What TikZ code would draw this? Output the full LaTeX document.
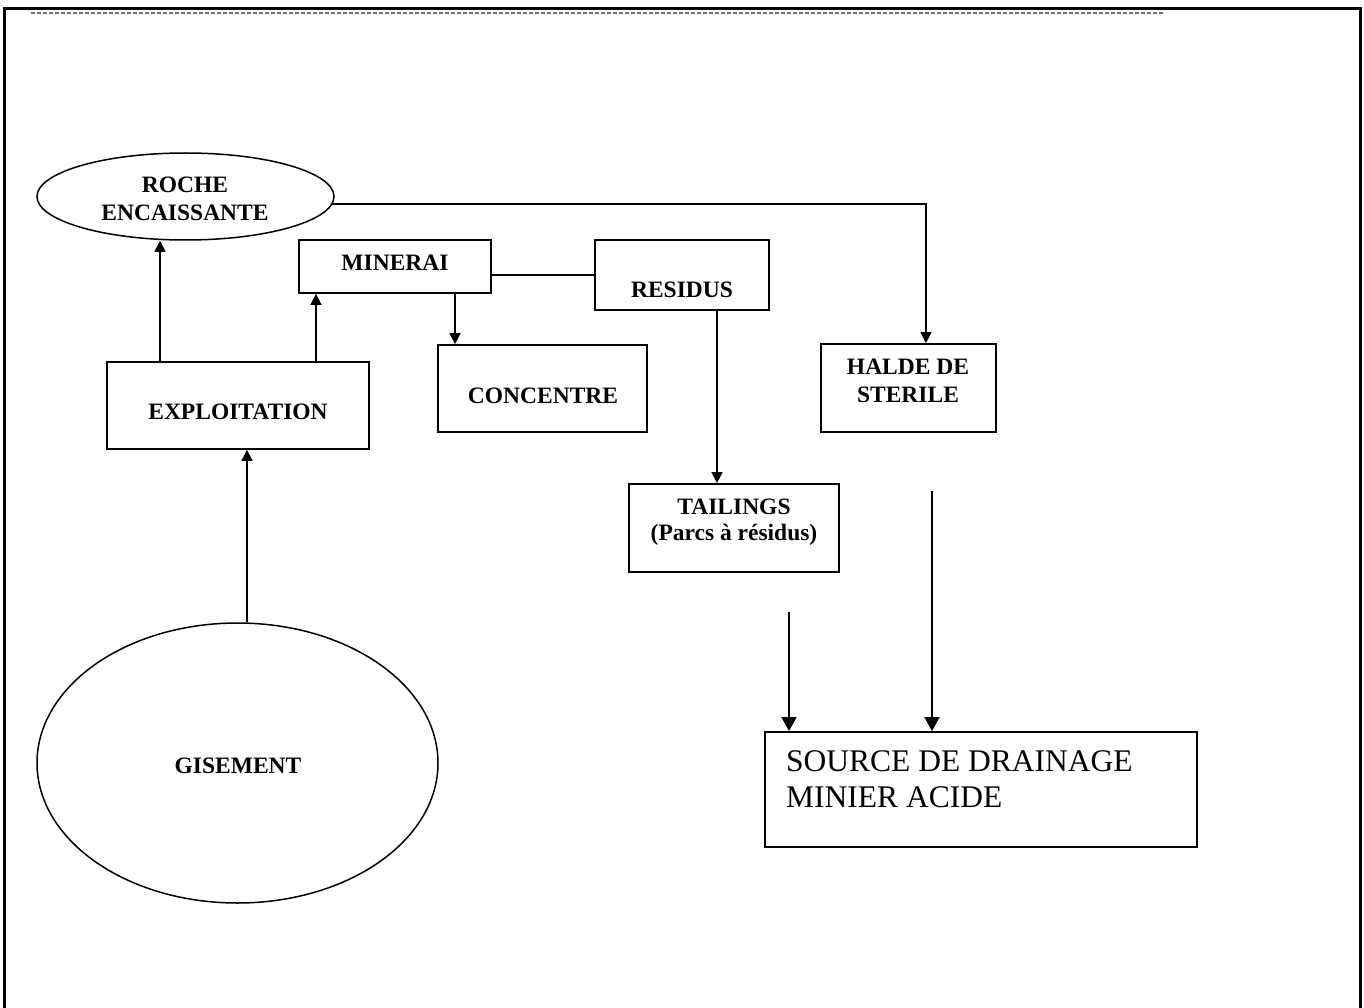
\documentclass[tikz,border=0pt]{standalone}
\usepackage{fontspec}
\setmainfont{Liberation Serif}
\usetikzlibrary{arrows.meta,shapes.geometric}
\tikzset{
  box/.style={draw, line width=1.8pt, inner sep=0pt},
  oval/.style={draw, ellipse, line width=1.5pt, inner sep=0pt},
  lbl/.style={anchor=base, inner sep=0pt, font=\fontsize{23.5}{27}\selectfont\bfseries},
  big/.style={anchor=base west, inner sep=0pt, font=\fontsize{31.5}{37}\selectfont},
  conn/.style={line width=1.6pt},
  arr/.style={conn, -{Triangle[length=11pt,width=11pt]}},
  bigarr/.style={conn, -{Triangle[length=14pt,width=15pt]}}
}
\begin{document}
\begin{tikzpicture}[x=1pt,y=-1pt]
\useasboundingbox (0,0) rectangle (1364,1008);
% page frame
\draw[line width=3pt] (4.5,1008) -- (4.5,8.5) -- (1360,8.5) -- (1360,1008);
\draw[black!55, line width=1.3pt, dash pattern=on 4pt off 2pt] (31,13) -- (1163,13);

% shapes
\node[oval, minimum width=297pt, minimum height=87pt] (roche) at (185.5,196.5) {};
\node[box, minimum width=192pt, minimum height=53pt] (minerai) at (395,266.5) {};
\node[box, minimum width=174pt, minimum height=70pt] (residus) at (682,275) {};
\node[box, minimum width=209pt, minimum height=87pt] (concentre) at (542.5,388.5) {};
\node[box, minimum width=262pt, minimum height=87pt] (exploitation) at (238,405.5) {};
\node[box, minimum width=175pt, minimum height=88pt] (halde) at (908.5,388) {};
\node[box, minimum width=210pt, minimum height=88pt] (tailings) at (734,528) {};
\node[oval, minimum width=401pt, minimum height=280pt] (gisement) at (237.5,763) {};
\node[box, minimum width=432pt, minimum height=115pt] (source) at (981,789.5) {};

% texts
\node[lbl] (t-roche1) at (185,193) {ROCHE};
\node[lbl] (t-roche2) at (185,221) {ENCAISSANTE};
\node[lbl] (t-minerai) at (395,270) {MINERAI};
\node[lbl] (t-residus) at (682,297) {RESIDUS};
\node[lbl] (t-concentre) at (543,403) {CONCENTRE};
\node[lbl] (t-exploitation) at (238,419) {EXPLOITATION};
\node[lbl] (t-halde1) at (908,374) {HALDE DE};
\node[lbl] (t-halde2) at (908,402) {STERILE};
\node[lbl] (t-tailings1) at (734,514) {TAILINGS};
\node[lbl] (t-tailings2) at (734,540) {(Parcs à résidus)};
\node[lbl] (t-gisement) at (238,773) {GISEMENT};
\node[big] (t-source1) at (786,771.5) {SOURCE DE DRAINAGE};
\node[big] (t-source2) at (786,807.5) {MINIER ACIDE};

% helper coordinates
\coordinate (xa) at (160,0);
\coordinate (xb) at (316,0);
\coordinate (xc) at (455,0);
\coordinate (ya) at (0,275);
\coordinate (xd) at (717,0);
\coordinate (xe) at (926,0);
\coordinate (xg) at (247,0);
\coordinate (f1) at (789,612);
\coordinate (f2) at (932,491);

% connectors
\draw[arr] (exploitation.north -| xa) -- (roche.south -| xa);
\draw[arr] (exploitation.north -| xb) -- (minerai.south -| xb);
\draw[arr] (minerai.south -| xc) -- (concentre.north -| xc);
\draw[conn] (minerai.east |- ya) -- (residus.west |- ya);
\draw[arr] (roche.-3.3) -- (roche.-3.3 -| xe) -- (halde.north -| xe);
\draw[arr] (residus.south -| xd) -- (tailings.north -| xd);
\draw[arr] (gisement.north -| xg) -- (exploitation.south -| xg);
\draw[bigarr] (f1) -- (source.north -| f1);
\draw[bigarr] (f2) -- (source.north -| f2);
\end{tikzpicture}
\end{document}
